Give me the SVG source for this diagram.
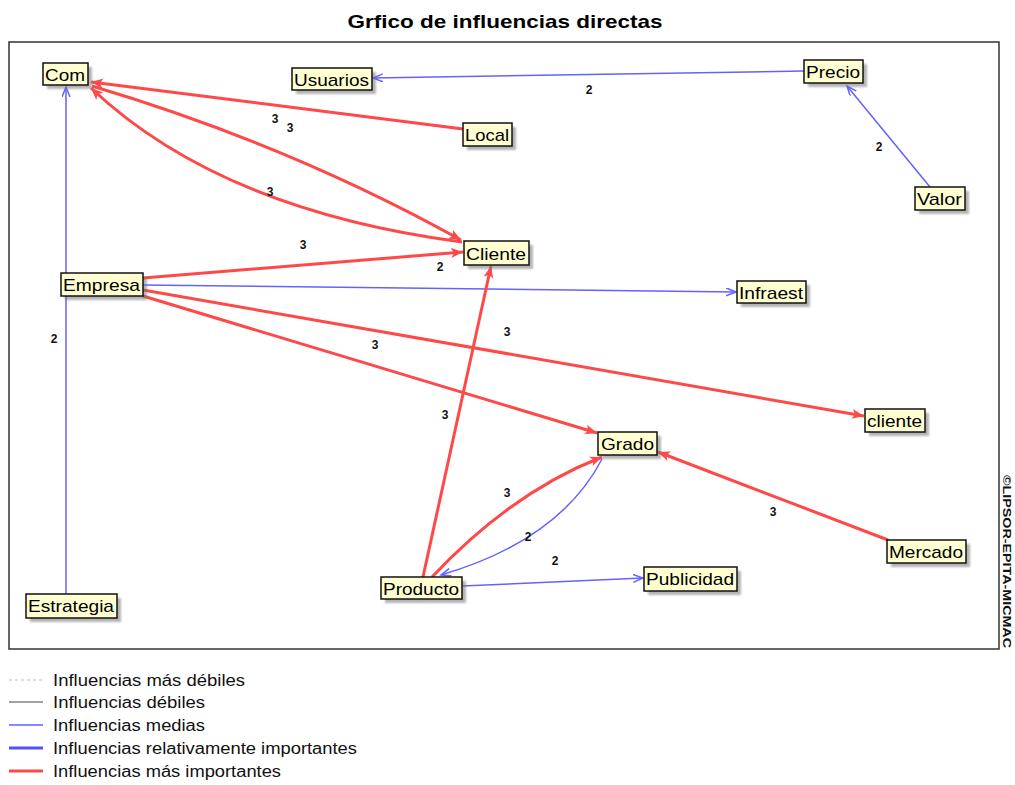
<svg xmlns="http://www.w3.org/2000/svg" width="1015" height="785" viewBox="0 0 1015 785">
<style>
.node rect.box{fill:#ffffd2;stroke:#111;stroke-width:1.5}
.node rect.sh{fill:#777;opacity:0.55}
.node text{font-family:"Liberation Sans",Arial,sans-serif;font-size:17px;fill:#000}
.red{stroke:#ff4848;stroke-width:3;fill:none;marker-end:url(#ar)}
.blue{stroke:#6262ff;stroke-width:1.5;fill:none;marker-end:url(#ab)}
.lbl{font-family:"Liberation Sans",Arial,sans-serif;font-size:12px;font-weight:bold;fill:#111;text-anchor:middle}
.leg{font-family:"Liberation Sans",Arial,sans-serif;font-size:16px;fill:#111}
</style>
<defs>
<filter id="blur" x="-20%" y="-20%" width="140%" height="140%"><feGaussianBlur stdDeviation="1.2"/></filter>
<marker id="ar" markerUnits="userSpaceOnUse" markerWidth="14" markerHeight="12" refX="12" refY="5" orient="auto">
<path d="M0,0 L12,5 L0,10 L3,5 z" fill="#ff4848"/>
</marker>
<marker id="ab" markerUnits="userSpaceOnUse" markerWidth="12" markerHeight="10" refX="10" refY="4" orient="auto">
<path d="M0,0 L10,4 L0,8" fill="none" stroke="#6262ff" stroke-width="1.5"/>
</marker>
</defs>
<rect width="1015" height="785" fill="#fff"/>
<text x="505" y="28" text-anchor="middle" font-family="'Liberation Sans',Arial,sans-serif" font-size="19" font-weight="bold" textLength="315" lengthAdjust="spacingAndGlyphs">Grfico de influencias directas</text>
<rect x="9" y="42" width="990" height="607" fill="none" stroke="#333" stroke-width="1.5"/>
<text transform="translate(1003,475) rotate(90)" font-family="'Liberation Sans',Arial,sans-serif" font-size="11" font-weight="bold" fill="#111" textLength="173" lengthAdjust="spacingAndGlyphs">©LIPSOR-EPITA-MICMAC</text>

<g id="connectors">
<path class="blue" d="M804,71 L373,78"/>
<path class="blue" d="M930,187 L847,86"/>
<path class="red" d="M463,129 L91,82"/>
<path class="red" d="M92,86 Q290,145 461,240"/>
<path class="red" d="M462,242 Q220,210 91,88"/>
<path class="red" d="M143,278 L463,252"/>
<path class="blue" d="M143,285 L736,292"/>
<path class="red" d="M143,290 L864,416"/>
<path class="red" d="M143,296 L597,433"/>
<path class="blue" d="M66,594 L66,87"/>
<path class="red" d="M423,577 L491,266"/>
<path class="red" d="M432,577 Q512,492 602,457"/>
<path class="blue" d="M602,459 Q560,540 441,575"/>
<path class="blue" d="M462,586 L643,578"/>
<path class="red" d="M888,540 L658,452"/>
<g class="labels">
<text class="lbl" x="589" y="94">2</text>
<text class="lbl" x="879" y="151">2</text>
<text class="lbl" x="275" y="123">3</text>
<text class="lbl" x="290" y="132">3</text>
<text class="lbl" x="270" y="196">3</text>
<text class="lbl" x="303" y="249">3</text>
<text class="lbl" x="440" y="271">2</text>
<text class="lbl" x="54" y="343">2</text>
<text class="lbl" x="375" y="349">3</text>
<text class="lbl" x="507" y="336">3</text>
<text class="lbl" x="445" y="419">3</text>
<text class="lbl" x="507" y="497">3</text>
<text class="lbl" x="528" y="541">2</text>
<text class="lbl" x="555" y="565">2</text>
<text class="lbl" x="773" y="516">3</text>
</g>
</g>

<g id="n-com" class="node"><rect class="sh" x="47" y="67" width="45" height="22" filter="url(#blur)"/><rect class="box" x="43" y="63" width="45" height="22"/><text x="45" y="81" textLength="40" lengthAdjust="spacingAndGlyphs">Com</text></g>
<g id="n-usuarios" class="node"><rect class="sh" x="296" y="72" width="80" height="22" filter="url(#blur)"/><rect class="box" x="292" y="68" width="80" height="22"/><text x="294" y="86" textLength="75" lengthAdjust="spacingAndGlyphs">Usuarios</text></g>
<g id="n-precio" class="node"><rect class="sh" x="808" y="64" width="59" height="23" filter="url(#blur)"/><rect class="box" x="804" y="60" width="59" height="23"/><text x="806" y="78" textLength="54" lengthAdjust="spacingAndGlyphs">Precio</text></g>
<g id="n-local" class="node"><rect class="sh" x="467" y="127" width="49" height="23" filter="url(#blur)"/><rect class="box" x="463" y="123" width="49" height="23"/><text x="465" y="141" textLength="44" lengthAdjust="spacingAndGlyphs">Local</text></g>
<g id="n-valor" class="node"><rect class="sh" x="919" y="191" width="50" height="23" filter="url(#blur)"/><rect class="box" x="915" y="187" width="50" height="23"/><text x="917" y="205" textLength="45" lengthAdjust="spacingAndGlyphs">Valor</text></g>
<g id="n-cliente" class="node"><rect class="sh" x="468" y="245" width="65" height="24" filter="url(#blur)"/><rect class="box" x="464" y="241" width="65" height="24"/><text x="466" y="260" textLength="60" lengthAdjust="spacingAndGlyphs">Cliente</text></g>
<g id="n-empresa" class="node"><rect class="sh" x="65" y="277" width="82" height="23" filter="url(#blur)"/><rect class="box" x="61" y="273" width="82" height="23"/><text x="63" y="291" textLength="77" lengthAdjust="spacingAndGlyphs">Empresa</text></g>
<g id="n-infraest" class="node"><rect class="sh" x="741" y="285" width="69" height="22" filter="url(#blur)"/><rect class="box" x="737" y="281" width="69" height="22"/><text x="739" y="299" textLength="64" lengthAdjust="spacingAndGlyphs">Infraest</text></g>
<g id="n-cliente2" class="node"><rect class="sh" x="869" y="413" width="60" height="23" filter="url(#blur)"/><rect class="box" x="865" y="409" width="60" height="23"/><text x="867" y="427" textLength="55" lengthAdjust="spacingAndGlyphs">cliente</text></g>
<g id="n-grado" class="node"><rect class="sh" x="602" y="436" width="59" height="23" filter="url(#blur)"/><rect class="box" x="598" y="432" width="59" height="23"/><text x="601" y="450" textLength="53" lengthAdjust="spacingAndGlyphs">Grado</text></g>
<g id="n-mercado" class="node"><rect class="sh" x="891" y="544" width="79" height="23" filter="url(#blur)"/><rect class="box" x="887" y="540" width="79" height="23"/><text x="889" y="558" textLength="74" lengthAdjust="spacingAndGlyphs">Mercado</text></g>
<g id="n-producto" class="node"><rect class="sh" x="385" y="581" width="81" height="22" filter="url(#blur)"/><rect class="box" x="381" y="577" width="81" height="22"/><text x="383" y="595" textLength="76" lengthAdjust="spacingAndGlyphs">Producto</text></g>
<g id="n-publicidad" class="node"><rect class="sh" x="648" y="571" width="93" height="24" filter="url(#blur)"/><rect class="box" x="644" y="567" width="93" height="24"/><text x="646" y="585" textLength="88" lengthAdjust="spacingAndGlyphs">Publicidad</text></g>
<g id="n-estrategia" class="node"><rect class="sh" x="30" y="598" width="91" height="24" filter="url(#blur)"/><rect class="box" x="26" y="594" width="91" height="24"/><text x="28" y="612" textLength="86" lengthAdjust="spacingAndGlyphs">Estrategia</text></g>

<g id="legend">
<line x1="9" y1="680" x2="43" y2="680" stroke="#bbb" stroke-width="1" stroke-dasharray="3,3"/>
<line x1="9" y1="702" x2="43" y2="702" stroke="#444" stroke-width="1.2"/>
<line x1="9" y1="725" x2="43" y2="725" stroke="#6262ff" stroke-width="1.5"/>
<line x1="9" y1="748" x2="43" y2="748" stroke="#5050ff" stroke-width="3"/>
<line x1="9" y1="771" x2="43" y2="771" stroke="#ff4848" stroke-width="3"/>
<text class="leg" x="53" y="686" textLength="192" lengthAdjust="spacingAndGlyphs">Influencias más débiles</text>
<text class="leg" x="53" y="708" textLength="152" lengthAdjust="spacingAndGlyphs">Influencias débiles</text>
<text class="leg" x="53" y="731" textLength="152" lengthAdjust="spacingAndGlyphs">Influencias medias</text>
<text class="leg" x="53" y="754" textLength="304" lengthAdjust="spacingAndGlyphs">Influencias relativamente importantes</text>
<text class="leg" x="53" y="777" textLength="228" lengthAdjust="spacingAndGlyphs">Influencias más importantes</text>
</g>
</svg>
